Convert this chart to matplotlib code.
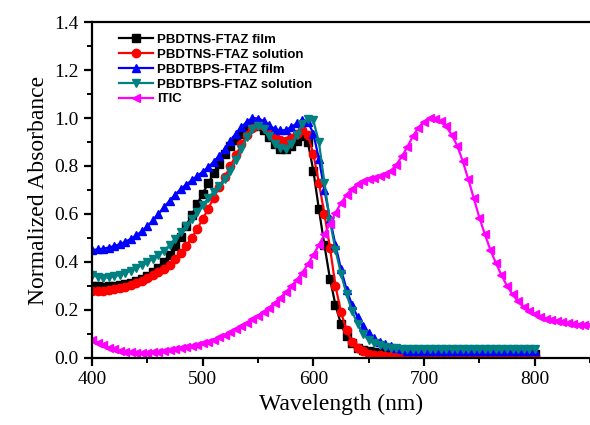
import matplotlib
matplotlib.use("Agg")
import matplotlib.pyplot as plt
import numpy as np
from matplotlib.ticker import MultipleLocator

# wavelength grids (nm)
wl_poly = np.arange(400, 801, 5)
wl_itic = np.arange(400, 851, 5)

tail_black = [0.015] * 12 + [0.014] * 12 + [0.013] * 12 + [0.012] * 12
tail_red = [0.006] * 12 + [0.006] * 12 + [0.005] * 12 + [0.005] * 12
tail_blue = [0.029] * 12 + [0.027] * 12 + [0.026] * 12 + [0.025] * 12
tail_teal = [0.037] * 12 + [0.036] * 12 + [0.035] * 12 + [0.035] * 12

# PBDTNS-FTAZ film, 400-800 nm
pbdtns_film = [0.300, 0.298, 0.297, 0.298, 0.300, 0.303, 0.308, 0.314, 0.321, 0.330,
               0.341, 0.356, 0.375, 0.400, 0.430, 0.465, 0.505, 0.550, 0.595, 0.640,
               0.685, 0.728, 0.770, 0.810, 0.848, 0.882, 0.910, 0.935, 0.955, 0.968,
               0.965, 0.950, 0.920, 0.890, 0.872, 0.870, 0.882, 0.905, 0.925, 0.900,
               0.780, 0.620, 0.470, 0.330, 0.220, 0.140, 0.090, 0.060, 0.043, 0.033,
               0.027, 0.023, 0.020, 0.018, 0.017, 0.016, 0.015] + tail_black[:24]
# PBDTNS-FTAZ solution
pbdtns_sol = [0.280, 0.279, 0.280, 0.282, 0.286, 0.291, 0.297, 0.305, 0.313, 0.322,
              0.333, 0.344, 0.356, 0.371, 0.389, 0.411, 0.437, 0.466, 0.500, 0.538,
              0.578, 0.622, 0.668, 0.712, 0.755, 0.800, 0.845, 0.890, 0.930, 0.960,
              0.972, 0.965, 0.945, 0.922, 0.908, 0.905, 0.915, 0.935, 0.948, 0.930,
              0.850, 0.730, 0.600, 0.460, 0.300, 0.190, 0.115, 0.068, 0.042, 0.027,
              0.018, 0.013, 0.010, 0.008, 0.007, 0.007, 0.006] + tail_red[:24]
# PBDTBPS-FTAZ film
pbdtbps_film = [0.450, 0.452, 0.455, 0.460, 0.466, 0.474, 0.484, 0.496, 0.511, 0.528,
                0.549, 0.573, 0.600, 0.628, 0.655, 0.680, 0.703, 0.722, 0.740, 0.758,
                0.776, 0.795, 0.818, 0.843, 0.870, 0.905, 0.935, 0.962, 0.985, 1.000,
                0.998, 0.988, 0.970, 0.955, 0.948, 0.950, 0.962, 0.978, 0.990, 0.985,
                0.935, 0.830, 0.700, 0.580, 0.470, 0.370, 0.285, 0.220, 0.170, 0.132,
                0.103, 0.082, 0.067, 0.056, 0.048, 0.042, 0.038] + tail_blue[:24]
# PBDTBPS-FTAZ solution
pbdtbps_sol = [0.345, 0.338, 0.335, 0.336, 0.340, 0.346, 0.354, 0.363, 0.374, 0.386,
               0.399, 0.413, 0.428, 0.447, 0.470, 0.497, 0.525, 0.550, 0.578, 0.607,
               0.637, 0.665, 0.693, 0.718, 0.745, 0.780, 0.825, 0.872, 0.920, 0.955,
               0.968, 0.955, 0.925, 0.893, 0.873, 0.872, 0.890, 0.930, 0.975, 0.998,
               0.990, 0.900, 0.730, 0.570, 0.450, 0.350, 0.265, 0.195, 0.140, 0.100,
               0.075, 0.060, 0.052, 0.046, 0.042, 0.040, 0.038] + tail_teal[:24]
# ITIC, 400-850 nm
itic = [0.075, 0.062, 0.052, 0.043, 0.036, 0.030, 0.026, 0.023, 0.021, 0.020,
        0.021, 0.023, 0.026, 0.029, 0.033, 0.037, 0.041, 0.045, 0.050, 0.055,
        0.060, 0.067, 0.075, 0.085, 0.096, 0.108, 0.120, 0.133, 0.147, 0.161,
        0.176, 0.192, 0.209, 0.228, 0.250, 0.273, 0.298, 0.325, 0.355, 0.390,
        0.430, 0.470, 0.515, 0.560, 0.605, 0.645, 0.680, 0.705, 0.725, 0.738,
        0.746, 0.752, 0.758, 0.766, 0.780, 0.805, 0.840, 0.880, 0.925, 0.960,
        0.985, 1.000, 0.998, 0.988, 0.965, 0.930, 0.885, 0.820, 0.745, 0.665,
        0.585, 0.515, 0.450, 0.395, 0.345, 0.300, 0.265, 0.235, 0.212, 0.195,
        0.182, 0.172, 0.164, 0.158, 0.153, 0.149, 0.145, 0.142, 0.139, 0.137,
        0.135]

fig = plt.figure(figsize=(5.9, 4.25), dpi=100)
ax = fig.add_axes([0.156, 0.158, 0.844, 0.79])

ms = 6
ax.plot(wl_poly, pbdtns_film, color='black', marker='s', ms=ms-0.5, lw=1.6, label='PBDTNS-FTAZ film')
ax.plot(wl_poly, pbdtns_sol, color='red', marker='o', ms=ms, lw=1.6, label='PBDTNS-FTAZ solution')
ax.plot(wl_poly, pbdtbps_film, color='blue', marker='^', ms=ms, lw=1.6, label='PBDTBPS-FTAZ film')
ax.plot(wl_poly, pbdtbps_sol, color='#008080', marker='v', ms=ms, lw=1.6, label='PBDTBPS-FTAZ solution')
ax.plot(wl_itic, itic, color='magenta', marker='<', ms=ms, lw=1.6, label='ITIC')

ax.set_xlim(400, 850)
ax.set_ylim(0, 1.4)
ax.xaxis.set_major_locator(MultipleLocator(100))
ax.xaxis.set_minor_locator(MultipleLocator(50))
ax.yaxis.set_major_locator(MultipleLocator(0.2))
ax.yaxis.set_minor_locator(MultipleLocator(0.1))
ax.yaxis.set_major_formatter(plt.FormatStrFormatter('%.1f'))

for s in ['left', 'bottom', 'top']:
    ax.spines[s].set_linewidth(1.6)
ax.spines['right'].set_visible(False)
ax.tick_params(which='major', length=6, width=1.6, direction='out', labelsize=14)
ax.tick_params(which='minor', length=3.5, width=1.4, direction='out')
for lab in ax.get_xticklabels() + ax.get_yticklabels():
    lab.set_family('Liberation Serif')

ax.set_xlabel('Wavelength (nm)', family='Liberation Serif', fontsize=17)
ax.set_ylabel('Normalized Absorbance', family='Liberation Serif', fontsize=17)

ax.legend(loc='upper left', bbox_to_anchor=(0.04, 0.985), frameon=False,
          prop={'family': 'Liberation Sans', 'weight': 'bold', 'size': 9.5},
          handlelength=2.6, handletextpad=0.3, labelspacing=0.2, borderpad=0)

fig.savefig('out.png', dpi=100)
